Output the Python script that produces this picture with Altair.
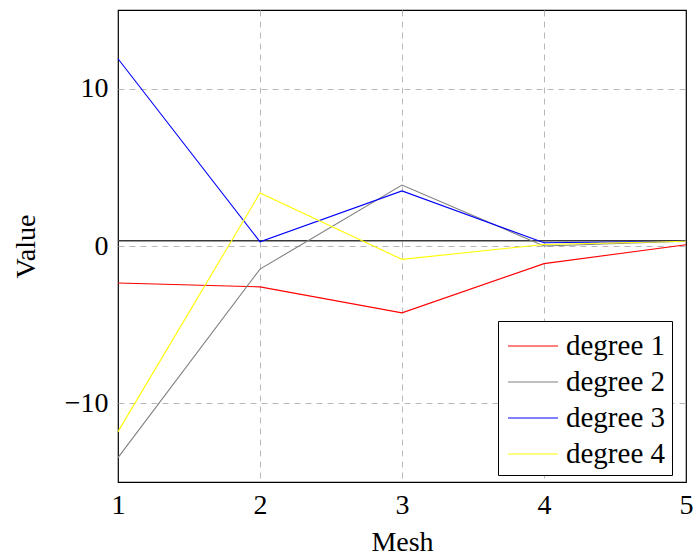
import altair as alt
import pandas as pd

mesh = [1, 2, 3, 4, 5]
degree1 = [-2.35, -2.6, -4.25, -1.12, 0.08]
degree2 = [-13.45, -1.47, 3.87, 0.0, 0.3]
degree3 = [11.9, 0.27, 3.5, 0.21, 0.3]
degree4 = [-11.8, 3.37, -0.85, 0.1, 0.3]
series_names = ["degree 1", "degree 2", "degree 3", "degree 4"]
series_colors = ["#ff0000", "#808080", "#0000ff", "#ffff00"]
reference_value = [0.33]

rows = []
for name, vals in zip(series_names, [degree1, degree2, degree3, degree4]):
    for m, v in zip(mesh, vals):
        rows.append({"Mesh": m, "Value": v, "series": name})
df = pd.DataFrame(rows)
ref_df = pd.DataFrame({"ref": reference_value})

FONT = "Liberation Serif"
edge_x = alt.expr("datum.value == 1 || datum.value == 5 ? 0 : 1")

x_enc = alt.X("Mesh:Q", scale=alt.Scale(domain=[1, 5], nice=False),
              axis=alt.Axis(values=[1, 2, 3, 4, 5], format="d", title="Mesh",
                            tickSize=0, labelPadding=9, titlePadding=9,
                            grid=True, gridDash=[6, 5], gridColor="#b8b8b8",
                            gridOpacity=edge_x,
                            domain=False, labelFlush=False))
y_enc = alt.Y("Value:Q", scale=alt.Scale(domain=[-15, 15], nice=False),
              axis=alt.Axis(values=[-10, 0, 10], format="d", title="Value",
                            tickSize=0, labelPadding=10, titlePadding=24,
                            grid=True, gridDash=[6, 5], gridColor="#b8b8b8",
                            domain=False))

lines = alt.Chart(df).mark_line(strokeWidth=1.1).encode(
    x=x_enc,
    y=y_enc,
    color=alt.Color("series:N",
                    scale=alt.Scale(domain=series_names, range=series_colors),
                    legend=alt.Legend(title=None, orient="none", legendX=380, legendY=311,
                                      symbolType="M-1.39,0L1.39,0", symbolSize=1296,
                                      symbolStrokeWidth=1.1, strokeColor="black",
                                      fillColor="white", padding=6, rowPadding=2,
                                      labelFont=FONT, labelFontSize=29,
                                      labelColor="black", labelOffset=14,
                                      symbolOffset=10)),
)

ref = alt.Chart(ref_df).mark_rule(color="#3a3a3a", strokeWidth=1.6).encode(
    y=alt.Y("ref:Q")
)

chart = alt.layer(ref, lines).properties(
    width=568, height=472,
    autosize=alt.AutoSizeParams(type="none"),
    padding={"left": 118, "top": 10, "right": 7, "bottom": 76},
).configure_view(
    stroke="black", strokeWidth=1.2
).configure_axis(
    labelFont=FONT, labelFontSize=28, labelColor="black",
    titleFont=FONT, titleFontSize=28, titleColor="black", titleFontWeight="normal",
)

chart.save("out.html", embed_options={"renderer": "svg", "actions": False})
